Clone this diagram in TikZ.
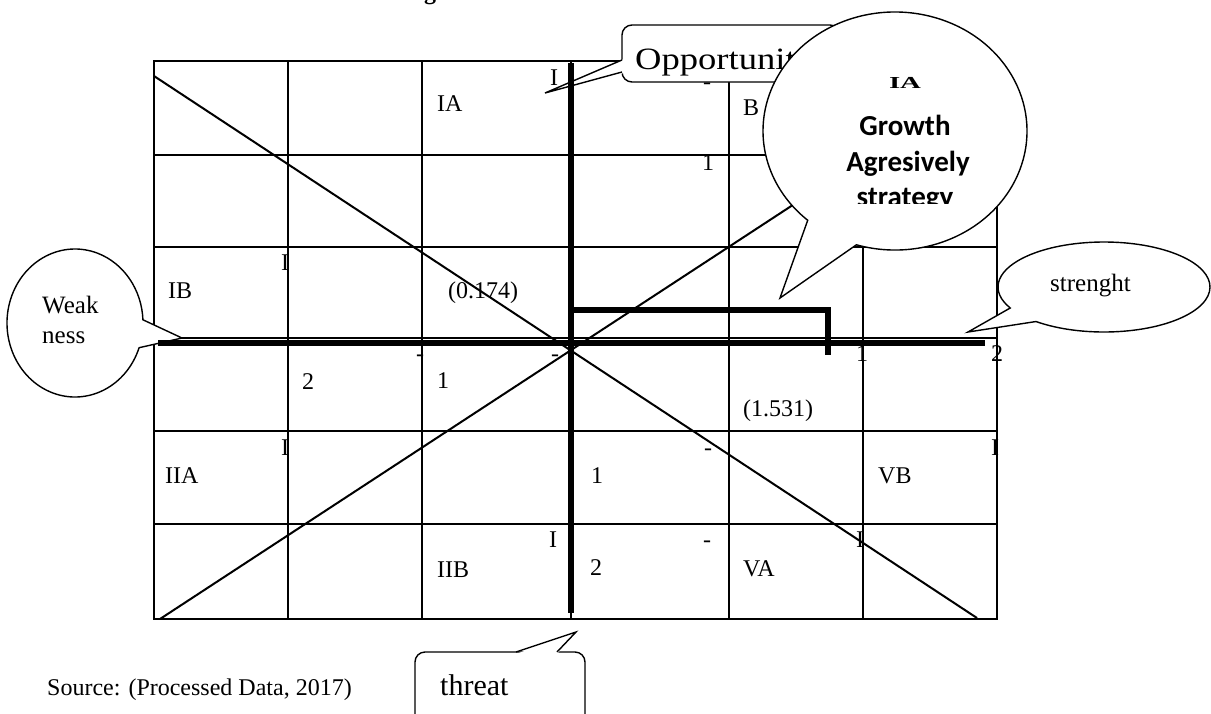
\documentclass[tikz,border=0pt]{standalone}
\usepackage{fontspec}
\setmainfont{Liberation Serif}
\newfontfamily\calib{Carlito}
\begin{document}
\begin{tikzpicture}[x=1pt,y=-1pt,
  gridline/.style={line width=2pt},
  heavy/.style={line width=5.5pt},
  lbl/.style={font=\fontsize{24}{28}\selectfont, inner sep=0pt, anchor=base west},
  callout/.style={draw, line width=1.4pt, fill=white, line join=miter},
  bigtxt/.style={font=\fontsize{29}{34}\selectfont\calib\bfseries, inner sep=0pt, anchor=base},
  ]
\useasboundingbox (0,0) rectangle (1211,713);
\begin{scope}
\clip (0,0) rectangle (1211,713);
% title fragment
\node[inner sep=0pt, anchor=base, font=\fontsize{24}{28}\selectfont\bfseries] (ttl) at (430,-1) {g};
% grid
\draw[gridline] (154,61) rectangle (997,619);
\foreach \x in {288,422,571,729,863} \draw[gridline] (\x,61) -- (\x,619);
\foreach \y in {155,247,338,431,524} \draw[gridline] (154,\y) -- (997,\y);
% diagonals
\coordinate (d1a) at (154,76);
\coordinate (d1b) at (977,618);
\coordinate (d2a) at (160,619);
\coordinate (d2b) at (990,76);
\draw[line width=2pt] (d1a) -- (d1b);
\draw[line width=2pt] (d2a) -- (d2b);
% cell labels
\node[lbl] (tIA) at (437,111) {IA};
\node[lbl] (tI1) at (550,85) {I};
\node[lbl] (tm1) at (703,89) {-};
\node[lbl] (tB) at (743,115) {B};
\node[lbl] (t11) at (702,170) {1};
\node[lbl] (tIB) at (168,298) {IB};
\node[lbl] (tI2) at (281,270) {I};
\node[lbl] (tv1) at (448,298) {(0.174)};
\node[lbl] (tm2) at (416,361) {-};
\node[lbl] (tm3) at (551,361) {-};
\node[lbl] (t2a) at (302,389) {2};
\node[lbl] (t1a) at (437,388) {1};
\node[lbl] (t1b) at (856,361) {1};
\node[lbl] (t2b) at (991,361) {2};
\node[lbl] (tv2) at (743,416) {(1.531)};
\node[lbl] (tIIA) at (165,483) {IIA};
\node[lbl] (tI3) at (281,455) {I};
\node[lbl] (t1c) at (591,483) {1};
\node[lbl] (tm4) at (704,455) {-};
\node[lbl] (tVB) at (878,483) {VB};
\node[lbl] (tI4) at (991,455) {I};
\node[lbl] (tI5) at (549,547) {I};
\node[lbl] (tIIB) at (437,577) {IIB};
\node[lbl] (t2c) at (590,575) {2};
\node[lbl] (tm5) at (703,547) {-};
\node[lbl] (tVA) at (743,576) {VA};
\node[lbl] (tI6) at (856,547) {I};
% Opportunity callout
\draw[callout, rounded corners=10pt] (622,25) rectangle (840,82);
\fill[white] (545,93) -- (624,59) -- (624,73) -- cycle;
\draw[line width=1.4pt] (622,60) -- (545,93) -- (622,72);
\node[inner sep=0pt, anchor=base west, font=\fontsize{31}{36}\selectfont] (opp) at (635,69) {\scalebox{1.18}[1]{Opportunity}};
% Weakness callout
\coordinate (wc) at (75,323);
\draw[callout] (wc) ++(19.5:68 and 74) arc[start angle=19.5, end angle=357.5, x radius=68, y radius=74] -- (182,338) -- cycle;
\node[lbl, font=\fontsize{25}{28}\selectfont] (wk1) at (42,313) {Weak};
\node[lbl, font=\fontsize{25}{28}\selectfont] (wk2) at (42,343) {ness};
% heavy lines
\draw[heavy, line width=6pt] (571,63) -- (571,613);
\draw[heavy] (158,343) -- (985,343);
\draw[heavy, line width=6.5pt] (571,310) -- (828,310) -- (828,355);
% strenght callout
\coordinate (sc) at (1104,287);
\draw[callout] (sc) ++(129.9:106 and 45) arc[start angle=129.9, end angle=-207.8, x radius=106, y radius=45] -- (968,332) -- cycle;
\node[lbl, font=\fontsize{25}{28}\selectfont] (st) at (1050,291) {strenght};
% big callout
\coordinate (bc) at (895,131);
\draw[callout] (bc) ++(107:132 and 119) arc[start angle=107, end angle=-228.6, x radius=132, y radius=119] -- (780,298) -- cycle;
\begin{scope}
\clip (760,40) rectangle (1030,203);
\node[inner sep=0pt, anchor=base, font=\fontsize{16}{18}\selectfont\bfseries] (bIA) at (905,88) {\scalebox{1.8}[1.05]{IA}};
\node[bigtxt] (bG) at (905,135) {Growth};
\node[bigtxt] (bA) at (908,171) {Agresively};
\node[bigtxt] (bS) at (905,206) {strategy};
\end{scope}
% threat callout
\draw[callout, rounded corners=10pt] (415,652) rectangle (585,740);
\fill[white] (516,654) -- (576,632) -- (557,654) -- cycle;
\draw[line width=1.4pt] (516,652) -- (576,632) -- (557,652);
\node[inner sep=0pt, anchor=base west, font=\fontsize{30}{34}\selectfont] (thr) at (440,695) {threat};
% source
\node[lbl] (src) at (47,695) {Source: (Processed Data, 2017)};
\end{scope}
\end{tikzpicture}
\end{document}
